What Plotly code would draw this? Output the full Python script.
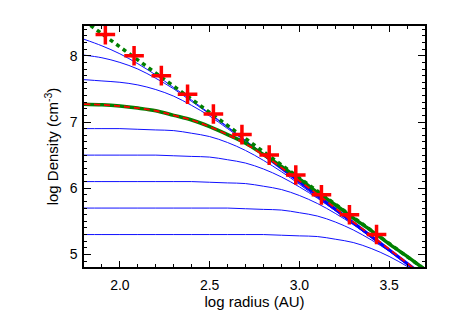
import plotly.graph_objects as go

# log radius grid (AU) used for all model curves
log_r = [1.8, 1.9, 2.0, 2.1, 2.2, 2.3, 2.4, 2.5, 2.6, 2.7,
         2.8, 2.9, 3.0, 3.1, 3.2, 3.3, 3.4, 3.5, 3.6, 3.7]

# thin blue model curves (log density)
blue_curves = [
    [8.25, 8.15, 8.03, 7.88, 7.71, 7.52, 7.33, 7.13, 6.93, 6.72, 6.52, 6.31, 6.10, 5.90, 5.69, 5.49, 5.28, 5.07, 4.87, 4.66],
    [8.01, 7.97, 7.90, 7.80, 7.66, 7.50, 7.31, 7.12, 6.92, 6.72, 6.51, 6.31, 6.10, 5.89, 5.69, 5.48, 5.28, 5.07, 4.86, 4.66],
    [7.64, 7.62, 7.60, 7.56, 7.49, 7.39, 7.25, 7.09, 6.90, 6.71, 6.51, 6.31, 6.10, 5.90, 5.69, 5.48, 5.28, 5.07, 4.87, 4.66],
    [6.90, 6.90, 6.90, 6.89, 6.88, 6.87, 6.83, 6.78, 6.69, 6.57, 6.42, 6.25, 6.06, 5.86, 5.66, 5.46, 5.25, 5.05, 4.84, 4.63],
    [6.50, 6.50, 6.50, 6.50, 6.50, 6.49, 6.48, 6.47, 6.43, 6.38, 6.29, 6.17, 6.02, 5.85, 5.66, 5.46, 5.26, 5.06, 4.85, 4.65],
    [6.10, 6.10, 6.10, 6.10, 6.10, 6.10, 6.10, 6.09, 6.08, 6.07, 6.03, 5.98, 5.89, 5.77, 5.62, 5.45, 5.26, 5.06, 4.86, 4.65],
    [5.70, 5.70, 5.70, 5.70, 5.70, 5.70, 5.70, 5.70, 5.70, 5.69, 5.68, 5.67, 5.63, 5.58, 5.49, 5.37, 5.22, 5.05, 4.86, 4.66],
    [5.30, 5.30, 5.30, 5.30, 5.30, 5.30, 5.30, 5.30, 5.30, 5.30, 5.30, 5.29, 5.28, 5.27, 5.23, 5.18, 5.09, 4.97, 4.82, 4.65],
]

green_fit = [7.27, 7.26, 7.24, 7.21, 7.17, 7.10, 7.03, 6.93, 6.81, 6.68, 6.51, 6.33, 6.14, 5.94, 5.75, 5.55, 5.36, 5.16, 4.97, 4.77]
red_fit = [7.27, 7.26, 7.24, 7.21, 7.17, 7.10, 7.03, 6.93, 6.81, 6.67, 6.50, 6.31, 6.11, 5.91, 5.70, 5.49, 5.29, 5.08, 4.87, 4.66]

# power laws
green_pl_r = [1.8, 3.7]
green_pl_n = [8.53, 4.77]
blue_pl_r = [2.8, 3.7]
blue_pl_n = [6.51, 4.66]

# observed points
obs_r = [1.919, 2.079, 2.231, 2.377, 2.521, 2.680, 2.832, 2.980, 3.123, 3.279, 3.430]
obs_n = [8.32, 8.00, 7.70, 7.42, 7.12, 6.81, 6.50, 6.20, 5.90, 5.60, 5.30]

FONT = "Liberation Sans, Arial, sans-serif"

fig = go.Figure()

for c in blue_curves:
    fig.add_trace(go.Scatter(x=log_r, y=c, mode="lines", line_shape="spline",
                             line=dict(color="#1010ff", width=1)))

fig.add_trace(go.Scatter(x=blue_pl_r, y=blue_pl_n, mode="lines",
                         line=dict(color="#0000ff", width=3)))
fig.add_trace(go.Scatter(x=log_r, y=green_fit, mode="lines", line_shape="spline",
                         line=dict(color="#008000", width=3.5)))
fig.add_trace(go.Scatter(x=green_pl_r, y=green_pl_n, mode="lines",
                         line=dict(color="#008000", width=3.5, dash="4px,4px")))
fig.add_trace(go.Scatter(x=log_r, y=red_fit, mode="lines", line_shape="spline",
                         line=dict(color="#ff0000", width=1.8, dash="6px,4px")))
fig.add_trace(go.Scatter(x=obs_r, y=obs_n, mode="markers",
                         marker=dict(symbol="cross-thin", size=14,
                                     line=dict(color="#ff0000", width=3.5))))

axis_common = dict(showline=True, linecolor="black", linewidth=1.5, mirror="ticks",
                   ticks="inside", tickcolor="black", showgrid=False, zeroline=False,
                   tickfont=dict(family=FONT, size=14, color="black"))

fig.update_xaxes(range=[1.8, 3.7], tickvals=[2.0, 2.5, 3.0, 3.5],
                 ticktext=["2.0", "2.5", "3.0", "3.5"], ticklen=6, tickwidth=1.2,
                 minor=dict(dtick=0.1, ticks="inside", ticklen=3, tickcolor="black", showgrid=False),
                 title=dict(text="log radius (AU)", standoff=3,
                            font=dict(family=FONT, size=15, color="black")),
                 ticklabelstandoff=4, **axis_common)
fig.update_yaxes(range=[4.81, 8.45], tickvals=[5, 6, 7, 8], ticklen=7, tickwidth=1.2,
                 minor=dict(dtick=0.1, ticks="inside", ticklen=3, tickcolor="black", showgrid=False),
                 title=dict(text="log Density (cm<sup>-3</sup>)", standoff=7,
                            font=dict(family=FONT, size=15, color="black")),
                 ticklabelstandoff=2, **axis_common)

# page body has an 8px margin, so the figure is shrunk and margins shifted
fig.update_layout(width=442, height=313, showlegend=False,
                  margin=dict(l=76, r=25, t=18, b=54),
                  plot_bgcolor="white", paper_bgcolor="white")

fig.write_html("out.html")
